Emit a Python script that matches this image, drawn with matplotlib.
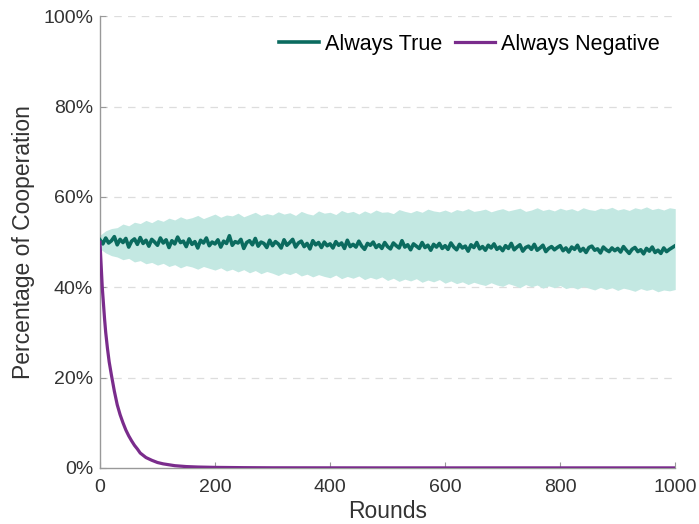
import numpy as np
import matplotlib
matplotlib.use("Agg")
import matplotlib.pyplot as plt

plt.rcParams["font.family"] = ["Liberation Sans", "DejaVu Sans"]

# "Always True" mean cooperation (%), every 5 rounds
true_mean = [
    50.5, 49.6, 50.9, 49.8, 50.3, 51.2, 49.4, 50.6, 49.9, 50.8, 48.9, 50.2, 50.7, 49.5, 51.0, 49.7, 50.4, 49.1, 50.6, 50.0,
    49.3, 50.9, 49.8, 50.5, 48.8, 50.3, 49.6, 51.1, 49.9, 50.2, 49.0, 50.7, 49.5, 50.1, 48.7, 50.4, 49.8, 50.9, 49.2, 50.0,
    49.6, 50.5, 48.9, 50.2, 49.7, 51.4, 49.3, 50.1, 49.8, 50.6, 48.6, 49.9, 50.3, 49.4, 50.8, 49.1, 50.0, 49.7, 48.8, 50.4,
    49.2, 50.1, 49.6, 48.7, 50.5, 49.3, 49.9, 50.6, 48.9, 49.8, 50.2, 49.0, 49.7, 48.5, 50.3, 49.4, 49.9, 48.8, 50.0, 49.2,
    49.6, 48.7, 50.1, 49.3, 49.8, 48.6, 50.4, 49.0, 49.5, 48.9, 50.2, 49.1, 48.4, 49.7, 49.3, 50.0, 48.8, 49.4, 48.6, 49.9,
    49.0, 48.5, 49.8, 49.2, 48.7, 50.3, 48.9, 49.4, 48.3, 49.6, 49.1, 48.6, 49.9, 48.8, 49.3, 48.2, 49.5, 48.9, 49.7, 48.6,
    49.2, 48.4, 49.8, 48.9, 48.3, 49.5, 48.7, 49.1, 48.0, 49.4, 48.8, 49.9, 48.5, 49.0, 48.2, 49.3, 48.7, 49.6, 48.4, 48.9,
    48.1, 49.2, 48.6, 49.7, 48.3, 48.9, 49.4, 48.0, 48.8, 49.1, 48.4, 49.5, 48.2, 48.7, 49.3, 47.9, 48.6, 49.0, 48.3, 48.8,
    49.2, 48.1, 48.7, 47.8, 48.9, 48.4, 49.3, 48.0, 48.6, 47.7, 48.8, 49.1, 48.2, 48.5, 47.6, 48.9, 48.3, 47.9, 48.7, 48.1,
    48.6, 47.8, 49.0, 48.2, 47.5, 48.4, 48.8, 47.9, 48.3, 47.4, 48.6, 48.0, 48.9, 47.7, 48.2, 47.5, 48.7, 47.9, 48.4, 48.8,
    49.2,
]
true_rounds = list(range(0, 1001, 5))

# spread band around "Always True", every 10 rounds
band_upper = [
    51.5, 52.5, 53.0, 53.2, 54.0, 53.6, 54.4, 54.1, 54.8, 54.3,
    55.0, 54.6, 55.3, 54.9, 55.6, 55.1, 55.4, 55.9, 55.2, 55.7,
    56.2, 55.5, 56.0, 55.8, 56.4, 55.6, 56.1, 56.6, 55.9, 56.3,
    56.0, 56.7, 56.2, 56.5, 55.9, 56.8, 56.3, 56.0, 56.9, 56.4,
    56.6, 56.1, 57.0, 56.5, 56.8, 56.2, 56.9, 56.4, 57.1, 56.6,
    56.7, 56.3, 57.2, 56.8, 56.5, 57.0, 56.6, 57.3, 56.9, 56.7,
    57.1, 56.6, 57.2, 56.9, 57.4, 56.8, 57.0, 57.3, 56.7, 57.1,
    57.4, 56.9, 57.2, 57.5, 56.8, 57.1, 57.6, 57.0, 57.3, 56.9,
    57.5, 57.1, 57.4, 56.9, 57.6, 57.2, 57.0, 57.5, 57.3, 57.7,
    57.1, 57.4, 57.0, 57.6, 57.3, 57.8, 57.2, 57.5, 57.1, 57.6,
    57.4,
]
band_lower = [
    48.5, 47.6, 47.0, 46.7, 46.1, 46.4, 45.6, 45.9, 45.2, 45.5,
    44.9, 45.3, 44.6, 45.0, 44.3, 44.8, 44.5, 44.0, 44.6, 44.2,
    43.8, 44.3, 43.6, 44.0, 43.4, 43.9, 43.2, 43.7, 43.0, 43.5,
    43.1, 42.6, 43.2, 42.8, 43.3, 42.5, 42.9, 42.3, 42.8, 42.4,
    42.1, 42.7, 41.9, 42.4, 42.0, 42.5, 41.7, 42.2, 41.8, 42.3,
    41.5, 42.0, 41.3, 41.8, 41.4, 41.9, 41.1, 41.6, 41.2, 41.7,
    40.9, 41.4, 40.8, 41.2, 40.6, 41.1, 40.7, 40.4, 41.0, 40.5,
    40.2, 40.8, 40.4, 39.9, 40.6, 40.1, 40.5, 39.8, 40.3, 39.9,
    40.4, 39.7, 40.1, 39.6, 40.2, 39.8, 39.4, 40.0, 39.5, 39.9,
    39.3, 39.8, 39.5, 39.1, 39.7, 39.3, 39.6, 39.0, 39.4, 39.2,
    39.5,
]
band_rounds = list(range(0, 1001, 10))

# "Always Negative" mean cooperation (%)
neg_rounds = [0, 2, 4, 6, 8, 10, 13, 16, 20, 25, 30, 35, 40, 45, 50, 55, 60, 65, 70, 75,
              80, 90, 100, 110, 120, 130, 140, 150, 170, 200, 250, 300, 400, 500, 600,
              700, 800, 900, 1000]
neg_mean = [50.0, 45.0, 40.0, 36.5, 33.0, 30.0, 26.5, 23.5, 20.5, 17.0, 14.0, 11.8, 10.0,
            8.4, 7.1, 6.0, 5.0, 4.2, 3.3, 2.8, 2.3, 1.7, 1.2, 0.9, 0.7, 0.5, 0.4, 0.3,
            0.2, 0.12, 0.06, 0.03, 0.02, 0.01, 0.01, 0.01, 0.01, 0.01, 0.01]

GREEN = "#0b6b5f"
BAND = "#c3e8e2"
PURPLE = "#7a2c8c"

fig = plt.figure(figsize=(6.99, 5.24), dpi=100)
ax = fig.add_axes([0.143, 0.107, 0.823, 0.862])

ax.fill_between(band_rounds, band_lower, band_upper, color=BAND, lw=0, zorder=1)
ax.plot(true_rounds, true_mean, color=GREEN, lw=2.6, label="Always True", zorder=3)
ax.plot(neg_rounds, neg_mean, color=PURPLE, lw=2.3, label="Always Negative", zorder=3)

ax.set_xlim(0, 1000)
ax.set_ylim(0, 100)
ax.set_xticks([0, 200, 400, 600, 800, 1000])
ax.set_yticks([0, 20, 40, 60, 80, 100])
ax.set_yticklabels([f"{v}%" for v in [0, 20, 40, 60, 80, 100]])

for v in [20, 40, 60, 80, 100]:
    ax.axhline(v, color="#dddddd", lw=0.9, ls=(0, (6, 5)), zorder=0)

for s in ["top", "right"]:
    ax.spines[s].set_visible(False)
for s in ["left", "bottom"]:
    ax.spines[s].set_color("#999999")
    ax.spines[s].set_linewidth(1.0)

ax.tick_params(direction="in", length=4, color="#999999", labelsize=14,
               labelcolor="#333333")
ax.tick_params(axis="y", pad=5)
ax.tick_params(axis="x", pad=8)
ax.set_xlabel("Rounds", fontsize=16.5, color="#333333", labelpad=3)
ax.set_ylabel("Percentage of Cooperation", fontsize=16.5, color="#333333", labelpad=6)

ax.legend(loc="upper right", bbox_to_anchor=(0.995, 0.99), ncol=2, frameon=False,
          fontsize=15.5, handlelength=1.85, handletextpad=0.28, columnspacing=0.6,
          borderaxespad=0.2)

fig.savefig("out.png", dpi=100)
